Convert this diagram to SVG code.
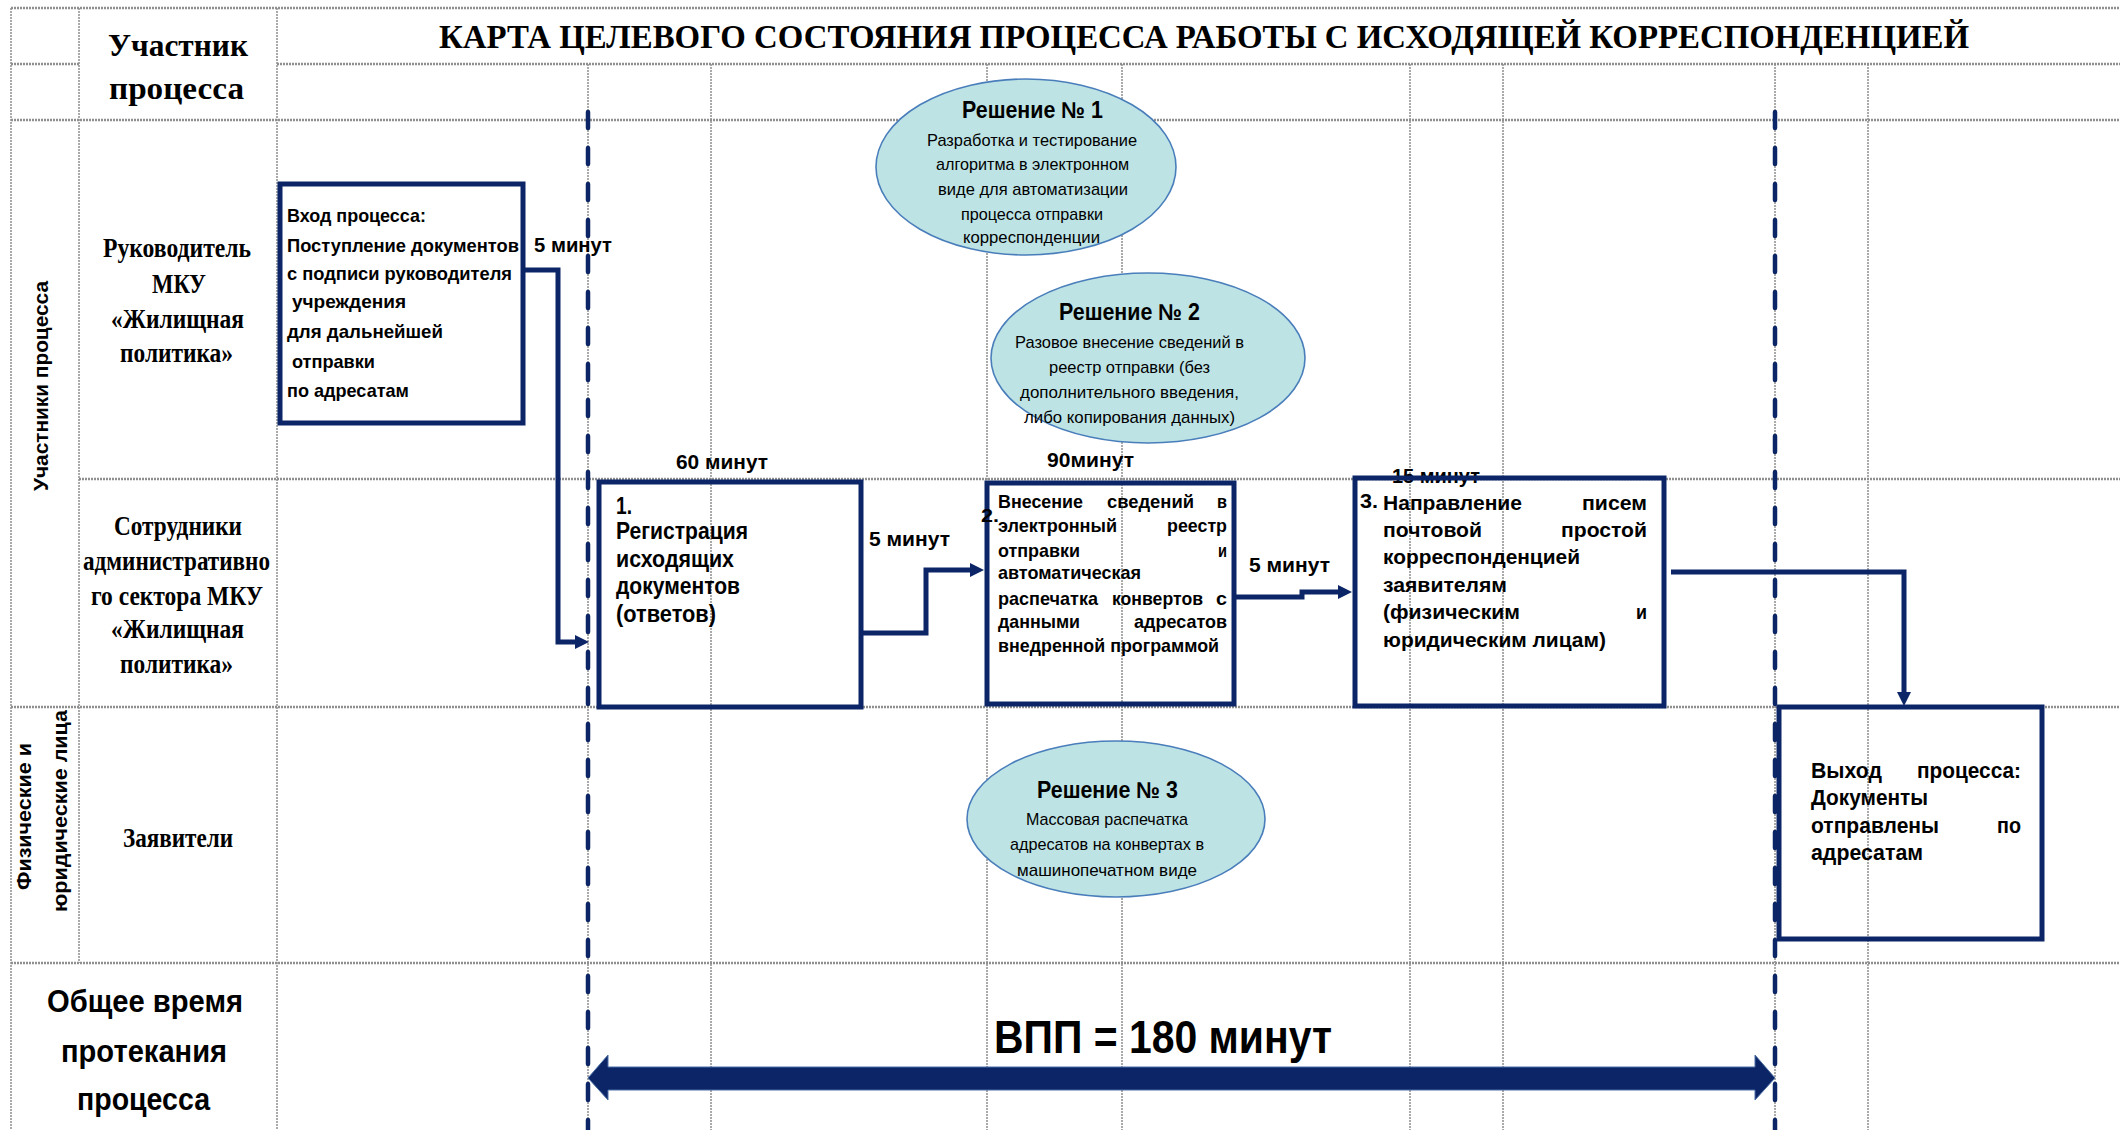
<svg xmlns="http://www.w3.org/2000/svg" width="2120" height="1130" viewBox="0 0 2120 1130">
<defs>
<style>
.bg{fill:#ffffff}
.gh{stroke:#8f8f8f;stroke-width:2.5;stroke-dasharray:2 1;fill:none}
.gv{stroke:#8f8f8f;stroke-width:1.5;stroke-dasharray:2 1;fill:none}
.bd{stroke:#0b2566;stroke-width:4.5;stroke-dasharray:16 20;stroke-linecap:round;fill:none}
.box{fill:none;stroke:#0b2566;stroke-width:5}
.con{fill:none;stroke:#0b2566;stroke-width:5}
.ell{fill:#bde3e5;stroke:#4a7ebb;stroke-width:1.6}
.sr{font-family:"Liberation Serif","Times New Roman",serif;font-weight:bold;fill:#000}
.sb{font-family:"Liberation Sans",Arial,sans-serif;font-weight:bold;fill:#000}
.sn{font-family:"Liberation Sans",Arial,sans-serif;font-weight:normal;fill:#000}
</style>
<marker id="ah" markerUnits="userSpaceOnUse" markerWidth="16" markerHeight="16" refX="4" refY="7" orient="auto">
<path d="M0,0 L14,7 L0,14 Z" fill="#0b2566"/>
</marker>
</defs>
<rect class="bg" x="0" y="0" width="2120" height="1130"/>

<g id="grid">
<line class="gh" x1="11" y1="8" x2="2120" y2="8"/>
<line class="gh" x1="11" y1="64" x2="79" y2="64"/>
<line class="gh" x1="277" y1="64" x2="2120" y2="64"/>
<line class="gh" x1="11" y1="120" x2="2120" y2="120"/>
<line class="gh" x1="79" y1="479" x2="2120" y2="479"/>
<line class="gh" x1="11" y1="707" x2="2120" y2="707"/>
<line class="gh" x1="11" y1="963" x2="2120" y2="963"/>
<line class="gv" x1="11" y1="8" x2="11" y2="1130"/>
<line class="gv" x1="79" y1="8" x2="79" y2="963"/>
<line class="gv" x1="277" y1="8" x2="277" y2="1130"/>
<line class="gv" x1="588" y1="64" x2="588" y2="1130"/>
<line class="gv" x1="711" y1="64" x2="711" y2="1130"/>
<line class="gv" x1="987" y1="64" x2="987" y2="1130"/>
<line class="gv" x1="1122" y1="64" x2="1122" y2="1130"/>
<line class="gv" x1="1410" y1="64" x2="1410" y2="1130"/>
<line class="gv" x1="1503" y1="64" x2="1503" y2="1130"/>
<line class="gv" x1="1775" y1="64" x2="1775" y2="1130"/>
<line class="gv" x1="1868" y1="64" x2="1868" y2="1130"/>
</g>

<g id="headers">
<text class="sr" x="439" y="48" font-size="34" textLength="1530" lengthAdjust="spacingAndGlyphs">КАРТА ЦЕЛЕВОГО СОСТОЯНИЯ ПРОЦЕССА РАБОТЫ С ИСХОДЯЩЕЙ КОРРЕСПОНДЕНЦИЕЙ</text>
<text class="sr" x="108" y="56" font-size="31" textLength="140" lengthAdjust="spacingAndGlyphs">Участник</text>
<text class="sr" x="109" y="99" font-size="31" textLength="135" lengthAdjust="spacingAndGlyphs">процесса</text>
<text class="sb" font-size="20" transform="translate(48,386) rotate(-90)" x="-105" y="0" textLength="210" lengthAdjust="spacingAndGlyphs">Участники процесса</text>
<text class="sb" font-size="20" transform="translate(31,816) rotate(-90)" x="-74" y="0" textLength="147" lengthAdjust="spacingAndGlyphs">Физические и</text>
<text class="sb" font-size="20" transform="translate(67,811) rotate(-90)" x="-101" y="0" textLength="202" lengthAdjust="spacingAndGlyphs">юридические лица</text>
</g>

<g id="lane-head">
<text class="sr" font-size="27" x="103" y="257" textLength="148" lengthAdjust="spacingAndGlyphs">Руководитель</text>
<text class="sr" font-size="27" x="152" y="293" textLength="54" lengthAdjust="spacingAndGlyphs">МКУ</text>
<text class="sr" font-size="27" x="111" y="328" textLength="133" lengthAdjust="spacingAndGlyphs">«Жилищная</text>
<text class="sr" font-size="27" x="120" y="362" textLength="113" lengthAdjust="spacingAndGlyphs">политика»</text>
</g>
<g id="lane-staff">
<text class="sr" font-size="27" x="114" y="535" textLength="128" lengthAdjust="spacingAndGlyphs">Сотрудники</text>
<text class="sr" font-size="27" x="83" y="570" textLength="187" lengthAdjust="spacingAndGlyphs">административно</text>
<text class="sr" font-size="27" x="91" y="605" textLength="172" lengthAdjust="spacingAndGlyphs">го сектора МКУ</text>
<text class="sr" font-size="27" x="111" y="638" textLength="133" lengthAdjust="spacingAndGlyphs">«Жилищная</text>
<text class="sr" font-size="27" x="120" y="673" textLength="113" lengthAdjust="spacingAndGlyphs">политика»</text>
</g>
<g id="lane-applicants">
<text class="sr" font-size="27" x="123" y="847" textLength="110" lengthAdjust="spacingAndGlyphs">Заявители</text>
</g>
<g id="total-head">
<text class="sb" font-size="31" x="47" y="1012" textLength="196" lengthAdjust="spacingAndGlyphs">Общее время</text>
<text class="sb" font-size="31" x="61" y="1062" textLength="166" lengthAdjust="spacingAndGlyphs">протекания</text>
<text class="sb" font-size="31" x="77" y="1110" textLength="133" lengthAdjust="spacingAndGlyphs">процесса</text>
</g>

<g id="solution-1">
<ellipse class="ell" cx="1026" cy="167" rx="150" ry="88"/>
<text class="sb" font-size="23" x="962" y="118" textLength="141" lengthAdjust="spacingAndGlyphs">Решение № 1</text>
<text class="sn" font-size="17" x="927" y="146" textLength="210" lengthAdjust="spacingAndGlyphs">Разработка и тестирование</text>
<text class="sn" font-size="17" x="936" y="170" textLength="193" lengthAdjust="spacingAndGlyphs">алгоритма в электронном</text>
<text class="sn" font-size="17" x="938" y="195" textLength="190" lengthAdjust="spacingAndGlyphs">виде для автоматизации</text>
<text class="sn" font-size="17" x="961" y="220" textLength="142" lengthAdjust="spacingAndGlyphs">процесса отправки</text>
<text class="sn" font-size="17" x="963" y="243" textLength="137" lengthAdjust="spacingAndGlyphs">корреспонденции</text>
</g>
<g id="solution-2">
<ellipse class="ell" cx="1148" cy="358" rx="157" ry="85"/>
<text class="sb" font-size="23" x="1059" y="320" textLength="141" lengthAdjust="spacingAndGlyphs">Решение № 2</text>
<text class="sn" font-size="17" x="1015" y="348" textLength="229" lengthAdjust="spacingAndGlyphs">Разовое внесение сведений в</text>
<text class="sn" font-size="17" x="1049" y="373" textLength="161" lengthAdjust="spacingAndGlyphs">реестр отправки (без</text>
<text class="sn" font-size="17" x="1020" y="398" textLength="219" lengthAdjust="spacingAndGlyphs">дополнительного введения,</text>
<text class="sn" font-size="17" x="1024" y="423" textLength="211" lengthAdjust="spacingAndGlyphs">либо копирования данных)</text>
</g>
<g id="solution-3">
<ellipse class="ell" cx="1116" cy="819" rx="149" ry="78"/>
<text class="sb" font-size="23" x="1037" y="798" textLength="141" lengthAdjust="spacingAndGlyphs">Решение № 3</text>
<text class="sn" font-size="17" x="1026" y="825" textLength="162" lengthAdjust="spacingAndGlyphs">Массовая распечатка</text>
<text class="sn" font-size="17" x="1010" y="850" textLength="194" lengthAdjust="spacingAndGlyphs">адресатов на конвертах в</text>
<text class="sn" font-size="17" x="1017" y="876" textLength="180" lengthAdjust="spacingAndGlyphs">машинопечатном виде</text>
</g>

<g id="boundaries">
<line class="bd" x1="588" y1="112" x2="588" y2="1130"/>
<line class="bd" x1="1775" y1="112" x2="1775" y2="1130"/>
</g>

<g id="time-labels">
<text class="sb" font-size="20" x="534" y="252" textLength="78" lengthAdjust="spacingAndGlyphs">5 минут</text>
<text class="sb" font-size="21" x="676" y="469" textLength="92" lengthAdjust="spacingAndGlyphs">60 минут</text>
<text class="sb" font-size="21" x="869" y="546" textLength="81" lengthAdjust="spacingAndGlyphs">5 минут</text>
<text class="sb" font-size="21" x="1047" y="467" textLength="87" lengthAdjust="spacingAndGlyphs">90минут</text>
<text class="sb" font-size="21" x="1249" y="572" textLength="81" lengthAdjust="spacingAndGlyphs">5 минут</text>
<text class="sb" font-size="21" x="1392" y="483" textLength="88" lengthAdjust="spacingAndGlyphs">15 минут</text>
</g>

<g id="input">
<rect class="box" x="280" y="184" width="243" height="239"/>
<text class="sb" font-size="19">
<tspan x="287" y="222" textLength="139" lengthAdjust="spacingAndGlyphs">Вход процесса:</tspan>
<tspan x="287" y="252" textLength="232" lengthAdjust="spacingAndGlyphs">Поступление документов</tspan>
<tspan x="287" y="280" textLength="225" lengthAdjust="spacingAndGlyphs">с подписи руководителя</tspan>
<tspan x="292" y="308" textLength="114" lengthAdjust="spacingAndGlyphs">учреждения</tspan>
<tspan x="287" y="338" textLength="156" lengthAdjust="spacingAndGlyphs">для дальнейшей</tspan>
<tspan x="292" y="368" textLength="83" lengthAdjust="spacingAndGlyphs">отправки</tspan>
<tspan x="287" y="397" textLength="122" lengthAdjust="spacingAndGlyphs">по адресатам</tspan>
</text>
</g>

<g id="step-1">
<rect class="box" x="599" y="482" width="262" height="225"/>
<text class="sb" font-size="23">
<tspan x="616" y="514" textLength="16" lengthAdjust="spacingAndGlyphs">1.</tspan>
<tspan x="616" y="539" textLength="132" lengthAdjust="spacingAndGlyphs">Регистрация</tspan>
<tspan x="616" y="567" textLength="118" lengthAdjust="spacingAndGlyphs">исходящих</tspan>
<tspan x="616" y="594" textLength="124" lengthAdjust="spacingAndGlyphs">документов</tspan>
<tspan x="616" y="622" textLength="100" lengthAdjust="spacingAndGlyphs">(ответов)</tspan>
</text>
</g>

<g id="step-2">
<rect class="box" x="987" y="483" width="247" height="221"/>
<text class="sb" font-size="19">
<tspan x="981" y="522" textLength="18" lengthAdjust="spacingAndGlyphs">2.</tspan>
<tspan x="998" y="508" textLength="85" lengthAdjust="spacingAndGlyphs">Внесение</tspan>
<tspan x="1107" y="508" textLength="87" lengthAdjust="spacingAndGlyphs">сведений</tspan>
<tspan x="1217" y="508" textLength="10" lengthAdjust="spacingAndGlyphs">в</tspan>
<tspan x="998" y="532" textLength="119" lengthAdjust="spacingAndGlyphs">электронный</tspan>
<tspan x="1167" y="532" textLength="60" lengthAdjust="spacingAndGlyphs">реестр</tspan>
<tspan x="998" y="557" textLength="82" lengthAdjust="spacingAndGlyphs">отправки</tspan>
<tspan x="1218" y="557" textLength="9" lengthAdjust="spacingAndGlyphs">и</tspan>
<tspan x="998" y="579" textLength="143" lengthAdjust="spacingAndGlyphs">автоматическая</tspan>
<tspan x="998" y="605" textLength="100" lengthAdjust="spacingAndGlyphs">распечатка</tspan>
<tspan x="1112" y="605" textLength="91" lengthAdjust="spacingAndGlyphs">конвертов</tspan>
<tspan x="1216" y="605" textLength="11" lengthAdjust="spacingAndGlyphs">с</tspan>
<tspan x="998" y="628" textLength="82" lengthAdjust="spacingAndGlyphs">данными</tspan>
<tspan x="1134" y="628" textLength="93" lengthAdjust="spacingAndGlyphs">адресатов</tspan>
<tspan x="998" y="652" textLength="221" lengthAdjust="spacingAndGlyphs">внедренной программой</tspan>
</text>
</g>

<g id="step-3">
<rect class="box" x="1355" y="478" width="309" height="228"/>
<text class="sb" font-size="21">
<tspan x="1360" y="508" textLength="18" lengthAdjust="spacingAndGlyphs">3.</tspan>
<tspan x="1383" y="510" textLength="139" lengthAdjust="spacingAndGlyphs">Направление</tspan>
<tspan x="1582" y="510" textLength="65" lengthAdjust="spacingAndGlyphs">писем</tspan>
<tspan x="1383" y="537" textLength="99" lengthAdjust="spacingAndGlyphs">почтовой</tspan>
<tspan x="1561" y="537" textLength="86" lengthAdjust="spacingAndGlyphs">простой</tspan>
<tspan x="1383" y="564" textLength="197" lengthAdjust="spacingAndGlyphs">корреспонденцией</tspan>
<tspan x="1383" y="592" textLength="124" lengthAdjust="spacingAndGlyphs">заявителям</tspan>
<tspan x="1383" y="619" textLength="137" lengthAdjust="spacingAndGlyphs">(физическим</tspan>
<tspan x="1636" y="619" textLength="11" lengthAdjust="spacingAndGlyphs">и</tspan>
<tspan x="1383" y="647" textLength="223" lengthAdjust="spacingAndGlyphs">юридическим лицам)</tspan>
</text>
</g>

<g id="output">
<rect class="box" x="1779" y="707" width="263" height="232"/>
<text class="sb" font-size="22">
<tspan x="1811" y="778" textLength="71" lengthAdjust="spacingAndGlyphs">Выход</tspan>
<tspan x="1917" y="778" textLength="104" lengthAdjust="spacingAndGlyphs">процесса:</tspan>
<tspan x="1811" y="805" textLength="117" lengthAdjust="spacingAndGlyphs">Документы</tspan>
<tspan x="1811" y="833" textLength="128" lengthAdjust="spacingAndGlyphs">отправлены</tspan>
<tspan x="1997" y="833" textLength="24" lengthAdjust="spacingAndGlyphs">по</tspan>
<tspan x="1811" y="860" textLength="112" lengthAdjust="spacingAndGlyphs">адресатам</tspan>
</text>
</g>

<g id="connectors">
<path class="con" d="M523,270 H558 V642 H579" marker-end="url(#ah)"/>
<path class="con" d="M861,633 H926 V570 H974" marker-end="url(#ah)"/>
<path class="con" d="M1234,597 H1302 V592 H1342" marker-end="url(#ah)"/>
<path class="con" d="M1671,572 H1904 V696" marker-end="url(#ah)"/>
</g>

<g id="total-time">
<text class="sb" font-size="46" x="994" y="1053" textLength="338" lengthAdjust="spacingAndGlyphs">ВПП = 180 минут</text>
<path d="M588,1078 L608,1055 L608,1067 L1755,1067 L1755,1055 L1775,1078 L1755,1100 L1755,1090 L608,1090 L608,1100 Z" fill="#0b2566" stroke="#4a6fa5" stroke-width="1"/>
</g>
</svg>
